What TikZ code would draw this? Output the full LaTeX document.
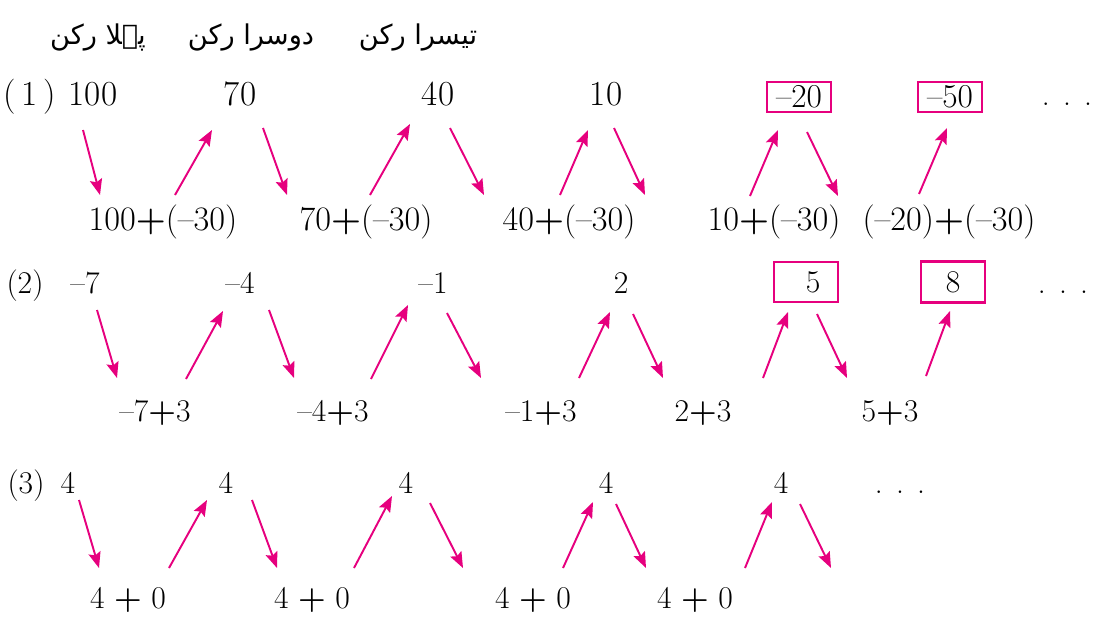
\documentclass[tikz,border=0pt]{standalone}
\usepackage{fontspec}
\usetikzlibrary{arrows.meta}
\newfontfamily\urdufont[Script=Arabic]{DejaVu Sans}
\TeXXeTstate=1
\definecolor{mag}{RGB}{230,0,126}
\newcommand{\mn}{\textendash}
\newcommand{\pl}{\textbf{+}}
\newcommand{\dotsrow}{.\hspace{7.5pt}.\hspace{7.5pt}.}
\begin{document}
\begin{tikzpicture}[x=0.02cm,y=-0.02cm,
 num/.style={anchor=base,inner sep=0pt,font=\fontsize{18}{20}\selectfont},
 big/.style={anchor=base,inner sep=0pt,font=\fontsize{20}{22}\selectfont},
 sub/.style={anchor=base,inner sep=0pt,font=\fontsize{19.5}{22}\selectfont},
 hdr/.style={inner sep=0pt,font=\urdufont\fontsize{15.5}{18}\selectfont},
 arr/.style={draw=mag,line width=1.1pt,-{Stealth[length=9pt,width=7pt,inset=1.5pt]}},
 hl/.style={draw=mag,line width=1.4pt,minimum width=1.28cm,inner sep=0pt}]
\useasboundingbox (0,0) rectangle (1095,619);
% headers
\node[hdr] (h1) at (98,37) {\beginR پہلا رکن\endR};
\node[hdr] (h2) at (251,37) {\beginR دوسرا رکن\endR};
\node[hdr] (h3) at (418,37) {\beginR تیسرا رکن\endR};
% row 1
\node[big] (l1) at (30,105) {(\,1\,)};
\node[big] (a1) at (93,105) {100};
\node[big] (a2) at (240,105) {70};
\node[big] (a3) at (438,105) {40};
\node[big] (a4) at (606,105) {10};
\node[hl,minimum height=0.6cm,font=\fontsize{19}{20}\selectfont] (a5) at (799,97) {\mn20};
\node[hl,minimum height=0.6cm,font=\fontsize{19}{20}\selectfont] (a6) at (950,97) {\mn50};
\node[num] (d1) at (1067,105) {\dotsrow};
\node[sub] (b1) at (163,230) {100\pl(\mn30)};
\node[sub] (b2) at (366,230) {70\pl(\mn30)};
\node[sub] (b3) at (569,230) {40\pl(\mn30)};
\node[sub] (b4) at (774,230) {10\pl(\mn30)};
\node[sub] (b5) at (949,230) {(\mn20)\pl(\mn30)};
\draw[arr] (83,130) -- (100,195);
\draw[arr] (175,195) -- (212,130);
\draw[arr] (263,128) -- (287,195);
\draw[arr] (370,195) -- (410,124);
\draw[arr] (450,128) -- (484,195);
\draw[arr] (560,195) -- (588,130);
\draw[arr] (614,128) -- (645,195);
\draw[arr] (750,196) -- (778,130);
\draw[arr] (807,132) -- (838,196);
\draw[arr] (919,194) -- (947,128);
% row 2
\node[num] (l2) at (25,293) {(2)};
\node[num] (c1) at (85,293) {\mn7};
\node[num] (c2) at (240,293) {\mn4};
\node[num] (c3) at (433,293) {\mn1};
\node[num] (c4) at (621,293) {2};
\node[hl,minimum height=0.8cm,font=\fontsize{18}{20}\selectfont] (c5) at (806,282) {\hspace{8pt}5};
\node[hl,minimum height=0.82cm,font=\fontsize{18}{20}\selectfont] (c6) at (953,282) {8};
\node[num] (d2) at (1063,293) {\dotsrow};
\node[num] (e1) at (155,421) {\mn7\pl3};
\node[num] (e2) at (333,421) {\mn4\pl3};
\node[num] (e3) at (541,421) {\mn1\pl3};
\node[num] (e4) at (703,421) {2\pl3};
\node[num] (e5) at (890,421) {5\pl3};
\draw[arr] (97,310) -- (117,378);
\draw[arr] (186,379) -- (223,311);
\draw[arr] (269,310) -- (294,378);
\draw[arr] (371,379) -- (408,305);
\draw[arr] (447,313) -- (481,378);
\draw[arr] (579,378) -- (610,312);
\draw[arr] (633,314) -- (663,378);
\draw[arr] (763,378) -- (788,312);
\draw[arr] (817,314) -- (847,378);
\draw[arr] (926,376) -- (950,311);
% row 3
\node[num] (l3) at (26,493) {(3)};
\node[num] (f1) at (68,493) {4};
\node[num] (f2) at (226,493) {4};
\node[num] (f3) at (406,493) {4};
\node[num] (f4) at (606,493) {4};
\node[num] (f5) at (781,493) {4};
\node[num] (d3) at (900,493) {\dotsrow};
\node[num] (g1) at (128,608) {4 \pl\ 0};
\node[num] (g2) at (312,608) {4 \pl\ 0};
\node[num] (g3) at (533,608) {4 \pl\ 0};
\node[num] (g4) at (695,608) {4 \pl\ 0};
\draw[arr] (79,500) -- (99,568);
\draw[arr] (169,568) -- (207,500);
\draw[arr] (252,500) -- (277,568);
\draw[arr] (354,568) -- (392,496);
\draw[arr] (430,503) -- (463,568);
\draw[arr] (563,568) -- (593,502);
\draw[arr] (616,504) -- (646,568);
\draw[arr] (745,568) -- (772,502);
\draw[arr] (800,504) -- (831,568);
\end{tikzpicture}
\end{document}
